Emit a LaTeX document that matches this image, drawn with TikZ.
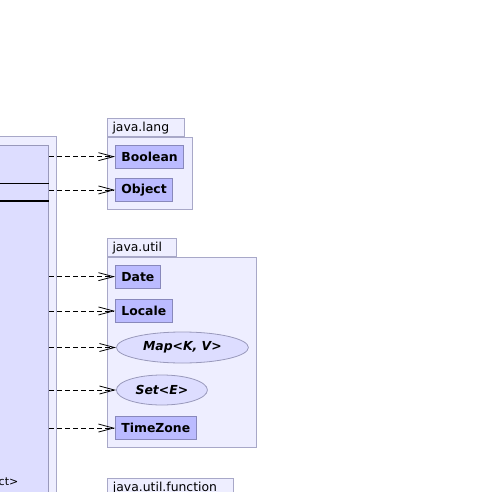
\documentclass[tikz,border=0pt]{standalone}
\usepackage{fontspec}
\setmainfont{DejaVu Sans}
\usepackage{xcolor}
\usepackage{tikz}
\usetikzlibrary{shapes.geometric, arrows.meta, positioning, fit, backgrounds}

\definecolor{pkgfill}{HTML}{EEEEFF}
\definecolor{pkgline}{HTML}{A8A8C8}
\definecolor{clsfill}{HTML}{BBBBFF}
\definecolor{clsline}{HTML}{8888BB}
\definecolor{ifcfill}{HTML}{DDDDFF}
\definecolor{ifcline}{HTML}{9999BB}

\begin{document}
\begin{tikzpicture}[
  x=1pt, y=-1pt,
  font=\fontsize{12.4}{14}\selectfont,
  pkgtab/.style={rectangle, draw=pkgline, fill=pkgfill, line width=0.8pt, minimum height=17.5pt, inner xsep=5.5pt, inner ysep=0pt, text height=9pt, text depth=0pt, text width=#1, align=left},
  pkgbody/.style={rectangle, draw=pkgline, fill=pkgfill, line width=0.8pt, inner sep=8pt},
  cls/.style={rectangle, draw=clsline, fill=clsfill, line width=0.8pt, minimum height=22.5pt, inner xsep=6pt, inner ysep=0pt, font=\fontsize{12.4}{14}\selectfont\bfseries},
  ifc/.style={ellipse, draw=ifcline, fill=ifcfill, line width=0.8pt, inner sep=0pt, minimum height=31pt, font=\fontsize{12.4}{14}\selectfont\bfseries\itshape},
  dep/.style={-{Straight Barb[length=15pt, width=8pt]}, dash pattern=on 5pt off 3pt, line width=0.8pt},
]
  \useasboundingbox (0,0) rectangle (489,492);
  \clip (0,0) rectangle (489,492);

  % Package and class on the left
  \node[pkgbody, anchor=north east, minimum width=90pt, minimum height=400pt] (mainpkg) at (57,136) {};
  \node[rectangle, draw=ifcline, fill=ifcfill, line width=0.8pt, anchor=north east, minimum width=80pt, minimum height=400pt] (main) at (49,145) {};
  \draw[line width=0.9pt] ([yshift=-38pt]main.north west) -- ([yshift=-38pt]main.north east);
  \draw[line width=1.8pt] ([yshift=-56pt]main.north west) -- ([yshift=-56pt]main.north east);
  \node[font=\fontsize{11}{13}\selectfont, anchor=base west, inner sep=0pt] (stereo) at (-1.5,485) {ct>};

  % java.lang
  \node[cls, anchor=north west] (boolean) at (115,145) {Boolean};
  \node[cls, below=10pt of boolean.south west, anchor=north west] (object) {Object};

  % java.util
  \node[cls, anchor=north west] (date) at (115,265) {Date};
  \node[cls, below=11pt of date.south west, anchor=north west] (locale) {Locale};
  \node[ifc, minimum width=132pt, anchor=west] (map) at (116,347.5) {Map<K, V>};
  \node[ifc, minimum width=91pt, minimum height=30pt, anchor=west] (set) at (116,390) {Set<E>};
  \node[cls, anchor=north west, yshift=-11pt] (timezone) at (set.south -| date.west) {TimeZone};

  % Package frames
  \begin{scope}[on background layer]
    \node[pkgbody, fit=(boolean) (object)] (langbody) {};
    \node[pkgtab=66pt, anchor=south west] (langtab) at (langbody.north west) {java.lang};
    \node[pkgbody, fit=(date) (locale) (map) (set) (timezone)] (utilbody) {};
    \node[pkgtab=58pt, anchor=south west] (utiltab) at (utilbody.north west) {java.util};
    \node[pkgtab=115pt, anchor=north west] (functab) at (107,478) {java.util.function};
  \end{scope}

  % Dependencies
  \foreach \c in {boolean,object,date,locale,map,set,timezone} {
    \draw[dep] (main.east |- \c.west) -- (\c.west);
  }
\end{tikzpicture}
\end{document}
